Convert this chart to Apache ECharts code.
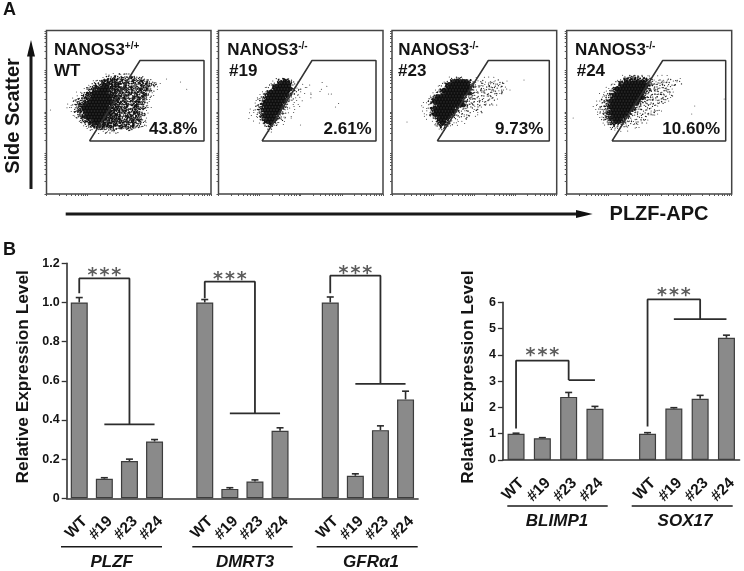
<!DOCTYPE html>
<html><head><meta charset="utf-8">
<style>html,body{margin:0;padding:0;background:#fff}#c{width:744px;height:571px;filter:blur(0.45px)}</style>
<script src="https://cdn.jsdelivr.net/npm/echarts@6/dist/echarts.min.js"></script>
</head><body><div id="c"></div>
<script>
// ---------- Panel B data ----------
const catsLeft = ['WT','#19','#23','#24','','WT','#19','#23','#24','','WT','#19','#23','#24'];
const valsLeft = [1.0,0.10,0.19,0.29,null,1.0,0.048,0.086,0.345,null,1.0,0.115,0.348,0.505];
const errsLeft = [0.025,0.005,0.01,0.01,null,0.015,0.006,0.008,0.015,null,0.028,0.01,0.022,0.042];
const catsRight = ['WT','#19','#23','#24','','WT','#19','#23','#24'];
const valsRight = [1.0,0.83,2.4,1.95,null,1.0,1.96,2.33,4.65];
const errsRight = [0.02,0.02,0.17,0.09,null,0.04,0.03,0.13,0.10];
const bracketsLeft = [
  [[0,1.047],[0,1.123],[2,1.123],[2,0.378]], [[1,0.378],[3,0.378]],
  [[5,1.021],[5,1.106],[7,1.106],[7,0.434]], [[6,0.434],[8,0.434]],
  [[10,1.047],[10,1.137],[12.07,1.137],[12.07,0.584]], [[11,0.584],[13,0.584]]
];
const bracketsRight = [
  [[0,1.2],[0,3.78],[2.48,3.78],[2.48,3.04]], [[1.83,3.04],[3.17,3.04]],
  [[5,1.27],[5,6.11],[7,6.11],[7,5.36]], [[6,5.36],[8,5.36]]
];
const starsLeft = [[1,1.16],[6,1.14],[11,1.171]];
const starsRight = [[1.3,4.14],[6.1,6.44]];

// ---------- Panel A data: channels on both axes; density rows ----------
const panelNames = ['WT','#19','#23','#24'];
const panelSup = ['+/+','-/-','-/-','-/-'];
const panelPct = ['43.8%','2.61%','9.73%','10.60%'];
const gates = [
  [[43,53],[93.5,133.5],[157.5,133.5],[157.5,53],[43,53]],
  [[43.5,53],[93.5,133.5],[157.5,133.5],[157.5,53],[43.5,53]],
  [[45.3,53],[96.3,133.5],[157.3,133.5],[157.3,53],[45.3,53]],
  [[45.3,53],[96,133.5],[159,133.5],[159,53],[45.3,53]]
];
const densityOrigin = [[18,119],[28.5,114],[28,115.7],[26.6,117.3]];
const densityWT = [
'00000000000000121221221',
'000000000000123343333243232',
'0000000000123444443433243342321',
'00000000123344544443433334343321',
'00000001234445544443434333433221',
'0000001234455554444343433434321',
'000001234455555444343343434321',
'000012344555555544434333434321',
'00012334455555554443433434331',
'00123344555555554443433443321',
'01123445555555544443343443321',
'11123455555555544443433443321',
'0012344555555555444343344321',
'0011234555555554444334344331',
'0001234555555544444334434321',
'0000123445555444444343434321',
'0000012344554444443434343321',
'0000001234444444434343433221',
'000000001223332333232332',
'000000000001121212'];
const density19 = [
'000000000123443200000000',
'00000000124555421010000001',
'0000000124555552100101000001',
'000000124555555312010000100',
'0000012455555541211001001',
'00001245555555321101010000001',
'0001234555555412101001',
'0001245555555321101',
'00012455555542110100000000000001',
'0012345555553211010',
'01123455555421101',
'1012345555532101',
'01012455554211010',
'1001245555321010',
'0010124554211',
'00000124321010',
'00000012210',
'000000011'];
const density23 = [
'000000000012332100010101010',
'00000000124555554211211211210',
'00000001245555555321121212212',
'000000124555555553222122221210',
'000001245555555553212222221211',
'0000122455555555532212221212',
'00012455555555532222121221',
'00124555555555322221212121',
'01124555555555532221212',
'10112455555555532212121211',
'011245555555422212121',
'101245555555321221212',
'01124555555421212101',
'0101245555321212101',
'00101245542111110',
'000012454321101',
'0000012432101',
'00000012100'];
const density24 = [
'00000000001233332211010101',
'00000000124444444432112112121',
'000000012445555555432122220012',
'0000011245555555554322221222',
'0000112455555555553322222210',
'0001123455555555533222222210',
'001123455555555553222222212',
'00112345555555555322222221',
'01123455555555553222212221',
'0112345555555553222222120',
'11223455555555322221210',
'112234555555542222212210',
'01223455555542221221210',
'0112345555542221221210',
'00123445554221212210',
'00012345543221212100',
'0000123432212121',
'0000012211210111',
'00000011010100'];
const densities = [densityWT, density19, density23, density24];
const strayDots = [
  [[140.2,104.7],[30,102],[4,84],[134,112],[120,115]],
  [[110,100],[117,87],[82,69],[40,87]],
  [[115,113],[132,114],[15,72],[118,104]],
  [[6.5,76],[157.5,95],[125,80],[128,88]]
];
// fixed within-bin grain offsets so the bins do not read as a lattice
const grainX = [-1.1,0.7,-0.3,1.3,-0.8,0.2,1.0,-1.4,0.5,-0.5,1.2,-0.1,0.9,-1.2,0.4,-0.7,1.4];
const grainY = [0.6,-1.2,1.1,-0.4,0.2,1.4,-0.9,0.8,-1.4,0.3,-0.6,1.0,-0.2];

// ---------- layout ----------
const FONT = '"Liberation Sans", Arial, sans-serif';
const INK = '#141414';
const panelLeft = [46.5,218.5,392,566.7];
const panelW = [164.5,164.5,164.7,165];
const labelX = [54,227.3,398.3,575];
const nameX = [54,229,398,576.7];
const pctRight = [197.3,371.7,543.3,720];
const DECADE = 41.1;
const logTicks = [];
for (let d=0;d<4;d++) for (let k=1;k<10;k++) logTicks.push(DECADE*(d+Math.log10(k)));
logTicks.push(4*DECADE);
const dotCount = [0,1,2,4,6];
const dotSizes = [0,1,1.3,1.5,1.7];

function dotsFromRows(rows, origin){
  const out=[];
  rows.forEach((row,r)=>{
    for(let c=0;c<row.length;c++){
      const v=+row[c];
      if(!v) continue;
      const px=origin[0]+c*3+(r%2?1.5:0), py=origin[1]-r*3;
      if(v===5){ out.push([px,py,4.6]); continue; }
      for(let k=0;k<dotCount[v];k++){
        const n=c*c+3*r*r+c*r+k*5;
        const m=2*c*c+r*r+3*c*r+k*4;
        out.push([px+grainX[n%grainX.length], py+grainY[m%grainY.length], dotSizes[v]]);
      }
    }
  });
  return out;
}

const grids=[],xAxes=[],yAxes=[],series=[],graphics=[];
function txt(x,y,t,size,o){o=o||{};
  graphics.push({type:'text',x,y,rotation:o.rot||0,silent:true,style:{text:t,fontSize:size,fontWeight:'bold',
    fontStyle:o.italic?'italic':'normal',fontFamily:FONT,fill:INK,textAlign:o.align||'center',textVerticalAlign:'middle'}});
}
function seg(x1,y1,x2,y2,w){graphics.push({type:'line',silent:true,shape:{x1,y1,x2,y2},style:{stroke:'#1a1a1a',lineWidth:w}});}

// Panel A
panelNames.forEach((nm,i)=>{
  grids.push({left:panelLeft[i],top:30.5,width:panelW[i],height:163.5,show:true,borderColor:'#444',borderWidth:1.5,backgroundColor:'#fff'});
  const ax={type:'value',gridIndex:i,min:0,splitLine:{show:false},axisLabel:{show:false},axisLine:{show:false},
    axisTick:{show:true,length:2,lineStyle:{color:'#555',width:1},customValues:logTicks}};
  xAxes.push(Object.assign({},ax,{max:panelW[i]}));
  yAxes.push(Object.assign({},ax,{max:163.5}));
  series.push({type:'scatter',xAxisIndex:i,yAxisIndex:i,silent:true,animation:false,
    data:dotsFromRows(densities[i],densityOrigin[i]),symbolSize:v=>v[2],
    itemStyle:{color:'#0c0c0c',opacity:0.9}});
  series.push({type:'scatter',xAxisIndex:i,yAxisIndex:i,silent:true,animation:false,data:strayDots[i],symbolSize:1.1,itemStyle:{color:'#333'}});
  series.push({type:'line',xAxisIndex:i,yAxisIndex:i,silent:true,animation:false,data:gates[i],symbol:'none',
    lineStyle:{color:'#333',width:1.5},z:5});
  graphics.push({type:'text',x:labelX[i],y:50,silent:true,style:{
    text:'{a|NANOS3}{b|'+panelSup[i]+'}',textVerticalAlign:'middle',textAlign:'left',
    rich:{a:{fontSize:17,fontWeight:'bold',fontFamily:FONT,fill:INK},
          b:{fontSize:10,fontWeight:'bold',fontFamily:FONT,fill:INK,padding:[0,0,7,0]}}}});
  txt(nameX[i],71,nm,17,{align:'left'});
  txt(pctRight[i],129,panelPct[i],17,{align:'right'});
});

// Panel B
function barGrid(g,left,width,top,height,cats,vals,errs,brackets,stars,maxV,interval,fmt){
  grids.push({left,top,width,height});
  xAxes.push({type:'category',gridIndex:g,data:cats,
    axisLine:{lineStyle:{color:'#333',width:1.6}},
    axisTick:{alignWithLabel:true,length:5,lineStyle:{color:'#333',width:1.3}},
    axisLabel:{interval:0,rotate:45,align:'right',verticalAlign:'top',fontFamily:FONT,fontWeight:'bold',fontSize:15.5,color:INK,margin:15,hideOverlap:false}});
  yAxes.push({type:'value',gridIndex:g,min:0,max:maxV,interval,splitLine:{show:false},
    name:'Relative Expression Level',nameLocation:'middle',nameGap:fmt?35:26,nameRotate:90,
    nameTextStyle:{fontFamily:FONT,fontWeight:'bold',fontSize:17.3,color:INK,padding:[0,0,0,8]},
    axisLine:{show:true,lineStyle:{color:'#333',width:1.6}},
    axisTick:{show:true,length:5,lineStyle:{color:'#333',width:1.3}},
    axisLabel:{fontFamily:FONT,fontWeight:'bold',fontSize:12.5,color:INK,margin:7,
      formatter:fmt?(v=>v===0?'0':v.toFixed(1)):undefined}});
  series.push({type:'bar',xAxisIndex:g,yAxisIndex:g,data:vals,barWidth:17,animation:false,silent:true,
    itemStyle:{color:'#8a8a8a',borderColor:'#3c3c3c',borderWidth:1.2}});
  series.push({type:'custom',xAxisIndex:g,yAxisIndex:g,animation:false,silent:true,clip:false,
    data:vals.map((v,i)=>v==null?null:[i,v,v+errs[i]]).filter(Boolean),
    encode:{x:0,y:[1,2]},
    renderItem:(p,api)=>{
      const a=api.coord([api.value(0),api.value(1)]),b=api.coord([api.value(0),api.value(2)]);
      const st={stroke:'#2c2c2c',lineWidth:1.6,fill:null};
      return {type:'group',children:[
        {type:'line',shape:{x1:a[0],y1:a[1],x2:b[0],y2:b[1]},style:st},
        {type:'line',shape:{x1:b[0]-3.5,y1:b[1],x2:b[0]+3.5,y2:b[1]},style:st}]};
    }});
  brackets.forEach(b=>series.push({type:'line',xAxisIndex:g,yAxisIndex:g,data:b,symbol:'none',clip:false,silent:true,animation:false,
    lineStyle:{color:'#2c2c2c',width:1.8},z:5}));
  series.push({type:'scatter',xAxisIndex:g,yAxisIndex:g,data:stars,symbolSize:0,clip:false,silent:true,animation:false,
    label:{show:true,position:'inside',offset:[0,5],formatter:'{s|*}{s|*}{s|*}',
      rich:{s:{width:11.8,align:'center',fontFamily:'"DejaVu Sans"',fontWeight:'bold',fontSize:19,color:'#333'}}}});
}
barGrid(4,66.7,351.4,263.3,235,catsLeft,valsLeft,errsLeft,bracketsLeft,starsLeft,1.2,0.2,true);
barGrid(5,502.9,236.7,302.3,157.7,catsRight,valsRight,errsRight,bracketsRight,starsRight,6,1,false);

// Annotations
txt(3,10,'A',18,{align:'left'});
txt(3,250,'B',18,{align:'left'});
txt(13.5,116,'Side Scatter',20,{rot:Math.PI/2});
txt(659,214,'PLZF-APC',20);
seg(31,189,31,52,3);
graphics.push({type:'polygon',silent:true,shape:{points:[[31,40],[35,56.5],[27,56.5]]},style:{fill:'#111'}});
seg(65.7,214,580,214,3);
graphics.push({type:'polygon',silent:true,shape:{points:[[592.7,214],[576,210],[576,218]]},style:{fill:'#111'}});
[[61,162,546.7],[192.3,292.7,546.7],[316.7,417.7,546.7],[507.3,607.7,506],[631.7,732.7,506]].forEach(l=>seg(l[0],l[2],l[1],l[2],1.5));
const groupNames=[['PLZF',111.7,562.7],['DMRT3',245,562.7],['GFRα1',371,562.7],['BLIMP1',557,521],['SOX17',685,521]];
groupNames.forEach(n=>txt(n[1],n[2],n[0],17,{italic:true}));

const chart=echarts.init(document.getElementById('c'),null,{renderer:'canvas',width:744,height:571});
chart.setOption({animation:false,backgroundColor:'#fff',tooltip:{show:false},grid:grids,xAxis:xAxes,yAxis:yAxes,series,graphic:graphics});
</script></body></html>
